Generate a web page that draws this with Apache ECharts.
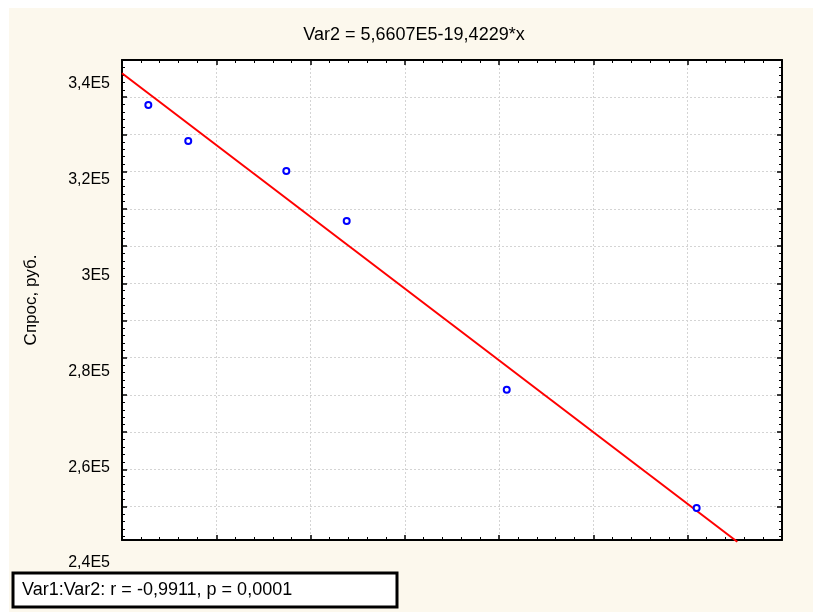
<!DOCTYPE html>
<html>
<head>
<meta charset="utf-8">
<script src="https://cdn.jsdelivr.net/npm/echarts@6/dist/echarts.min.js"></script>
<style>
  html, body { margin: 0; padding: 0; background: #fcf8ed; overflow: hidden; width: 100%; height: 100%; }
  #chart { width: 100%; height: 100%; min-width: 813px; min-height: 612px; }
</style>
</head>
<body>
<div id="chart"></div>
<script>
const xValues = [11765, 12091, 12892, 13385, 14692, 16243];
const yValues = [335500, 328000, 321750, 311325, 276150, 251475];

// fitted line end points
const fitX = [11550, 16575];
const fitY = [342130, 244450];

// y tick labels (Statistica puts them off the grid lines)
const yLabelValues = [240000, 260000, 280000, 300000, 320000, 340000];
const yLabels = ['2,4E5', '2,6E5', '2,8E5', '3E5', '3,2E5', '3,4E5'];

const titleText = 'Var2 = 5,6607E5-19,4229*x';
const statText = 'Var1:Var2: r = -0,9911, p = 0,0001';
const yName = 'Спрос, руб.';

const FONT = '"Liberation Sans", Arial, sans-serif';
const gridLine = { show: true, lineStyle: { color: '#d4d4d4', width: 1, type: [2, 2] } };
const frameLine = { show: true, onZero: false, lineStyle: { color: '#000', width: 2 } };
const tickIn = { show: true, inside: true, length: 5, lineStyle: { color: '#000', width: 1.5 } };
const minorIn = { show: true, splitNumber: 5, length: 3, lineStyle: { color: '#000', width: 1 } };

var dom = document.getElementById('chart');
var myChart = echarts.init(dom, null, { renderer: 'canvas' });

var option = {
    backgroundColor: '#fcf8ed',
    animation: false,
    textStyle: { fontFamily: FONT },
    graphic: [
        { type: 'rect', shape: { x: 0, y: 0, width: 813, height: 8 }, style: { fill: '#ffffff' }, silent: true },
        { type: 'rect', shape: { x: 0, y: 0, width: 9, height: 612 }, style: { fill: '#ffffff' }, silent: true },
        {
            type: 'text', x: 414, y: 35,
            style: { text: titleText, fill: '#000', font: '18px ' + FONT, textAlign: 'center', textVerticalAlign: 'middle' }
        },
        {
            type: 'rect', shape: { x: 13, y: 573, width: 384, height: 34 },
            style: { fill: '#ffffff', stroke: '#000', lineWidth: 3 }
        },
        {
            type: 'text', x: 22, y: 590, z: 10,
            style: { text: statText, fill: '#000', font: '18px ' + FONT, textAlign: 'left', textVerticalAlign: 'middle' }
        }
    ],
    grid: [
        { left: 122, top: 60, width: 660, height: 480, show: true, backgroundColor: '#ffffff', borderWidth: 0 },
        { left: 122, top: 60, width: 660, height: 503, show: false }
    ],
    xAxis: [
        {
            gridIndex: 0, type: 'value', position: 'bottom',
            min: 11550, max: 16940, interval: 770,
            axisLine: frameLine, axisTick: tickIn, minorTick: minorIn,
            axisLabel: { show: false }, splitLine: gridLine
        },
        {
            gridIndex: 0, type: 'value', position: 'top',
            min: 11550, max: 16940, interval: 770,
            axisLine: frameLine, axisTick: tickIn, minorTick: minorIn,
            axisLabel: { show: false }, splitLine: { show: false }
        },
        { gridIndex: 1, type: 'value', min: 11550, max: 16940, show: false }
    ],
    yAxis: [
        // data scale
        { gridIndex: 0, type: 'value', min: 244800, max: 344900, show: false },
        // grid lines / right frame
        {
            gridIndex: 0, type: 'value', position: 'right', inverse: true,
            min: 0, max: 12.9, interval: 1,
            axisLine: frameLine, axisTick: tickIn, minorTick: minorIn,
            axisLabel: { show: false }, splitLine: gridLine
        },
        // left frame
        {
            gridIndex: 0, type: 'value', position: 'left', inverse: true,
            min: 0, max: 12.9, interval: 1,
            axisLine: frameLine, axisTick: tickIn, minorTick: minorIn,
            axisLabel: { show: false }, splitLine: { show: false },
            name: yName, nameLocation: 'middle', nameGap: 82,
            nameTextStyle: { fontSize: 17, color: '#000', fontFamily: FONT }
        },
        // tick labels
        {
            gridIndex: 1, type: 'value', position: 'left',
            min: 240000, max: 344900, interval: 20000,
            axisLine: { show: false }, axisTick: { show: false }, splitLine: { show: false },
            axisLabel: {
                show: true, margin: 12, fontSize: 16, color: '#000', fontFamily: FONT,
                showMaxLabel: false,
                formatter: function (v) {
                    var i = yLabelValues.indexOf(v);
                    return i >= 0 ? yLabels[i] : '';
                }
            }
        }
    ],
    series: [
        {
            type: 'line',
            xAxisIndex: 0, yAxisIndex: 0,
            data: fitX.map(function (x, i) { return [x, fitY[i]]; }),
            symbol: 'none',
            clip: false,
            lineStyle: { color: '#ff0000', width: 2 },
            z: 3
        },
        {
            type: 'scatter',
            xAxisIndex: 0, yAxisIndex: 0,
            data: xValues.map(function (x, i) { return [x, yValues[i]]; }),
            symbol: 'circle',
            symbolSize: 6,
            itemStyle: { color: '#ffffff', borderColor: '#0000ff', borderWidth: 2, opacity: 1 },
            z: 4
        }
    ]
};

myChart.setOption(option);
</script>
</body>
</html>
